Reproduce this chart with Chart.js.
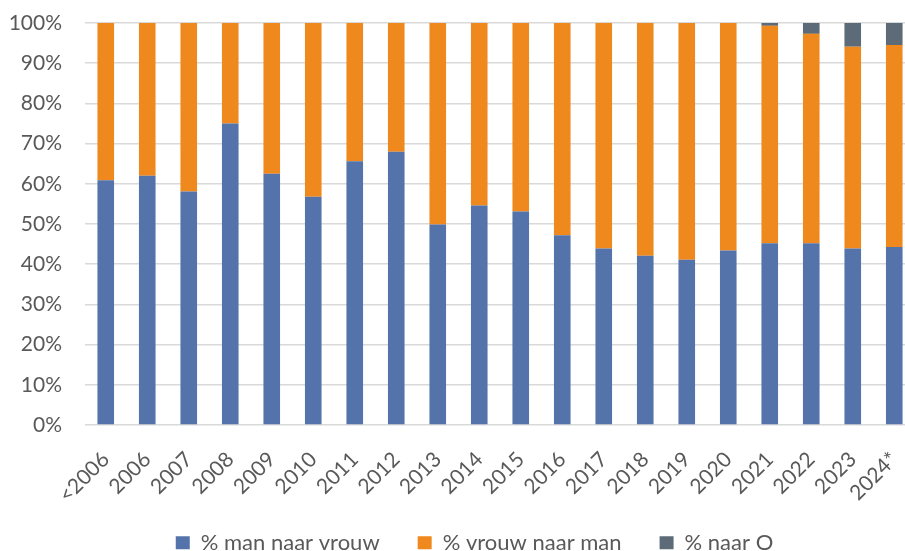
<!DOCTYPE html>
<html>
<head>
<meta charset="utf-8">
<script src="https://cdn.jsdelivr.net/npm/chart.js@4/dist/chart.umd.min.js"></script>
<style>
  html, body { margin: 0; padding: 0; background: #ffffff; overflow: hidden; }
  #wrap { width: 925px; height: 551px; position: relative; }
</style>
</head>
<body>
<div id="wrap"><canvas id="c"></canvas></div>
<script>
const categories = ['<2006','2006','2007','2008','2009','2010','2011','2012','2013','2014','2015','2016','2017','2018','2019','2020','2021','2022','2023','2024*'];
const manNaarVrouw = [60.9, 62.0, 58.1, 75.0, 62.5, 56.8, 65.6, 68.0, 49.9, 54.6, 53.1, 47.2, 43.9, 42.1, 41.1, 43.4, 45.2, 45.2, 43.9, 44.3];
const vrouwNaarMan = [39.1, 38.0, 41.9, 25.0, 37.5, 43.2, 34.4, 32.0, 50.1, 45.4, 46.9, 52.8, 56.1, 57.9, 58.9, 56.6, 54.1, 52.1, 50.2, 50.2];
const naarO = [0, 0, 0, 0, 0, 0, 0, 0, 0, 0, 0, 0, 0, 0, 0, 0, 0.7, 2.7, 5.9, 5.5];
const seriesNames = ['% man naar vrouw', '% vrouw naar man', '% naar O'];
const yTicks = [0, 10, 20, 30, 40, 50, 60, 70, 80, 90, 100];

const FONT = 'Lato, "Open Sans", sans-serif';
const TXT = '#595959';
const LEGEND_SIZE = 22;
const LEGEND_PAD = 38;

const legendPlacer = {
  id: 'legendPlacer',
  afterLayout(chart) {
    const x = chart.scales.x;
    if (x) { x.bottom = chart.height; }
    const lg = chart.legend;
    if (!lg) return;
    const dx = 17;
    lg.left += dx; lg.right += dx;
    const itemH = LEGEND_SIZE * 1.2;
    const newTop = 545 - LEGEND_PAD - itemH / 2;
    const dy = newTop - lg.top;
    lg.top += dy; lg.bottom += dy;
  }
};

new Chart(document.getElementById('c'), {
  type: 'bar',
  data: {
    labels: categories,
    datasets: [
      { label: seriesNames[0], data: manNaarVrouw, backgroundColor: '#5473aa' },
      { label: seriesNames[1], data: vrouwNaarMan, backgroundColor: '#f0891d' },
      { label: seriesNames[2], data: naarO, backgroundColor: '#5c6b77' }
    ]
  },
  options: {
    responsive: true,
    maintainAspectRatio: false,
    animation: false,
    datasets: { bar: { categoryPercentage: 1, barPercentage: 0.4, borderWidth: 0 } },
    layout: { padding: { top: 23, right: 10, left: 0, bottom: 0 } },
    scales: {
      x: {
        stacked: true,
        grid: { display: false, drawTicks: false },
        border: { display: false },
        ticks: {
          color: TXT, font: { family: FONT, size: 21 },
          minRotation: 45, maxRotation: 45, padding: 22, autoSkip: false
        },
        afterFit(scale) {
          const lh = scale.chart.legend ? scale.chart.legend.height : 60;
          scale.height = 551 - 425 - lh;
          scale.paddingLeft = 0; scale.paddingRight = 0;
        }
      },
      y: {
        stacked: true,
        min: 0, max: 100,
        afterBuildTicks(scale) { scale.ticks = yTicks.map(v => ({ value: v })); },
        afterFit(scale) {
          scale.width = 85;
          scale.paddingTop = 0; scale.paddingBottom = 0;
        },
        grid: { color: '#d9d9d9', lineWidth: 1.5, drawTicks: false },
        border: { display: false },
        ticks: {
          color: TXT, font: { family: FONT, size: 21 }, padding: 23,
          callback: v => v + '%'
        }
      }
    },
    plugins: {
      legend: {
        position: 'bottom',
        labels: {
          color: TXT, font: { family: FONT, size: LEGEND_SIZE },
          boxWidth: 14, boxHeight: 13, padding: LEGEND_PAD
        }
      },
      tooltip: { enabled: false }
    }
  },
  plugins: [legendPlacer]
});
</script>
</body>
</html>
